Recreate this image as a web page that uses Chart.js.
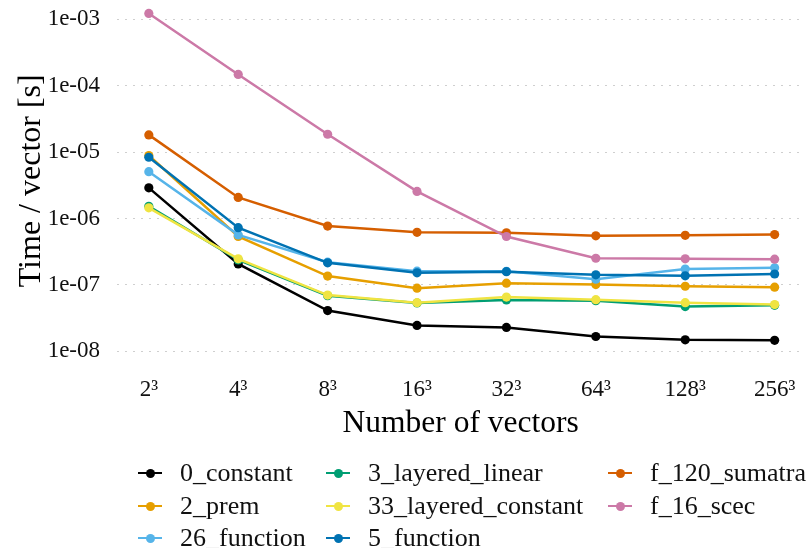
<!DOCTYPE html>
<html>
<head>
<meta charset="utf-8">
<script src="https://cdn.jsdelivr.net/npm/chart.js@4/dist/chart.umd.min.js"></script>
<style>
  html, body { margin: 0; padding: 0; background: #ffffff; }
  #wrap { position: relative; width: 809px; height: 548px; overflow: hidden; }
  #chart { position: absolute; left: 0; top: 0; }
  .item { position: absolute; height: 32px; display: flex; align-items: center;
          font-family: "Liberation Serif", "DejaVu Serif", serif; font-size: 26px; color: #111; white-space: nowrap; }
  .key { position: relative; width: 24px; height: 32px; margin-right: 18px; }
  .key .ln { position: absolute; left: 0; right: 0; top: 14.75px; height: 2.5px; }
  .key .dt { position: absolute; left: 7.5px; top: 11.5px; width: 9px; height: 9px; border-radius: 50%; }
</style>
</head>
<body>
<div id="wrap">
  <canvas id="chart" width="809" height="548"></canvas>
  <div id="legend"></div>
</div>
<script>
// Problem sizes along the x axis
const xLabels = ['2³', '4³', '8³', '16³', '32³', '64³', '128³', '256³'];

// Measured time per vector [s] for each model
const constant0        = [2.9e-6, 2.07e-7, 4.1e-8, 2.45e-8, 2.29e-8, 1.67e-8, 1.49e-8, 1.46e-8];
const prem2            = [8.9e-6, 5.36e-7, 1.36e-7, 8.93e-8, 1.06e-7, 1.01e-7, 9.55e-8, 9.24e-8];
const function26       = [5.07e-6, 5.67e-7, 2.2e-7, 1.61e-7, 1.6e-7, 1.22e-7, 1.73e-7, 1.81e-7];
const layeredLinear3   = [1.53e-6, 2.38e-7, 6.86e-8, 5.34e-8, 5.92e-8, 5.78e-8, 4.71e-8, 4.92e-8];
const layeredConstant33= [1.45e-6, 2.47e-7, 7.02e-8, 5.4e-8, 6.56e-8, 5.98e-8, 5.4e-8, 5.05e-8];
const function5        = [8.37e-6, 7.27e-7, 2.15e-7, 1.52e-7, 1.58e-7, 1.42e-7, 1.37e-7, 1.46e-7];
const sumatra120       = [1.82e-5, 2.08e-6, 7.7e-7, 6.2e-7, 6.1e-7, 5.48e-7, 5.58e-7, 5.73e-7];
const scec16           = [1.23e-3, 1.48e-4, 1.86e-5, 2.56e-6, 5.36e-7, 2.52e-7, 2.47e-7, 2.44e-7];

const seriesNames = ['0_constant', '2_prem', '26_function', '3_layered_linear',
                     '33_layered_constant', '5_function', 'f_120_sumatra', 'f_16_scec'];
const seriesValues = [constant0, prem2, function26, layeredLinear3,
                      layeredConstant33, function5, sumatra120, scec16];

// Decade ticks on the log axis
const yTickValues = [1e-8, 1e-7, 1e-6, 1e-5, 1e-4, 1e-3];
const yTickLabels = ['1e-08', '1e-07', '1e-06', '1e-05', '1e-04', '1e-03'];

const palette = ['#000000', '#E69F00', '#56B4E9', '#009E73', '#F0E442', '#0072B2', '#D55E00', '#CC79A7'];
const serif = '"Liberation Serif", "DejaVu Serif", serif';

const datasets = seriesNames.map((name, i) => ({
  label: name,
  data: seriesValues[i].map((v, j) => ({ x: j, y: v })),
  borderColor: palette[i],
  backgroundColor: palette[i],
  borderWidth: 2.5,
  pointRadius: 4.6,
  pointHoverRadius: 4.6,
  pointBorderWidth: 0,
  tension: 0,
  order: seriesNames.length - i   // later series drawn on top
}));

new Chart(document.getElementById('chart'), {
  type: 'line',
  data: { datasets },
  options: {
    responsive: false,
    devicePixelRatio: 1,
    animation: false,
    layout: { padding: { left: 0, right: 0, top: 0, bottom: 105 } },
    plugins: { legend: { display: false }, tooltip: { enabled: false } },
    scales: {
      x: {
        type: 'linear',
        min: -0.356,
        max: 7.333,
        afterBuildTicks: (axis) => { axis.ticks = xLabels.map((_, i) => ({ value: i })); },
        afterFit: (axis) => { axis.height = 86; axis.paddingLeft = 0; axis.paddingRight = 0; },
        grid: { display: false, drawTicks: false },
        border: { display: false },
        ticks: {
          padding: 19,
          color: '#111',
          font: { family: serif, size: 23 },
          callback: (v) => xLabels[v]
        },
        title: {
          display: true,
          text: 'Number of vectors',
          color: '#000',
          font: { family: serif, size: 31.5 },
          padding: { top: 0, bottom: 0 }
        }
      },
      y: {
        type: 'logarithmic',
        min: 8.2e-9,
        max: 1.67e-3,
        afterBuildTicks: (axis) => { axis.ticks = yTickValues.map(v => ({ value: v })); },
        afterFit: (axis) => { axis.width = 117; axis.paddingTop = 0; axis.paddingBottom = 0; },
        grid: { display: true, drawTicks: false, color: '#cfcfcf', lineWidth: 1 },
        border: { display: false, dash: [2, 6] },
        ticks: {
          padding: 17,
          color: '#111',
          font: { family: serif, size: 23 },
          callback: (v, i) => yTickLabels[i]
        },
        title: {
          display: true,
          text: 'Time / vector [s]',
          color: '#000',
          font: { family: serif, size: 32 },
          padding: { top: 12, bottom: 0 }
        }
      }
    }
  }
});

// Legend in three columns, filled column by column
const colKeyLeft = [138, 326, 608];
const rowCenter = [473, 506, 538];
const legend = document.getElementById('legend');
seriesNames.forEach((name, i) => {
  const col = Math.floor(i / 3), row = i % 3;
  const item = document.createElement('div');
  item.className = 'item';
  item.style.left = colKeyLeft[col] + 'px';
  item.style.top = (rowCenter[row] - 16) + 'px';
  item.innerHTML = '<div class="key"><div class="ln" style="background:' + palette[i] +
    '"></div><div class="dt" style="background:' + palette[i] + '"></div></div><span></span>';
  item.querySelector('span').textContent = name;
  legend.appendChild(item);
});
</script>
</body>
</html>
